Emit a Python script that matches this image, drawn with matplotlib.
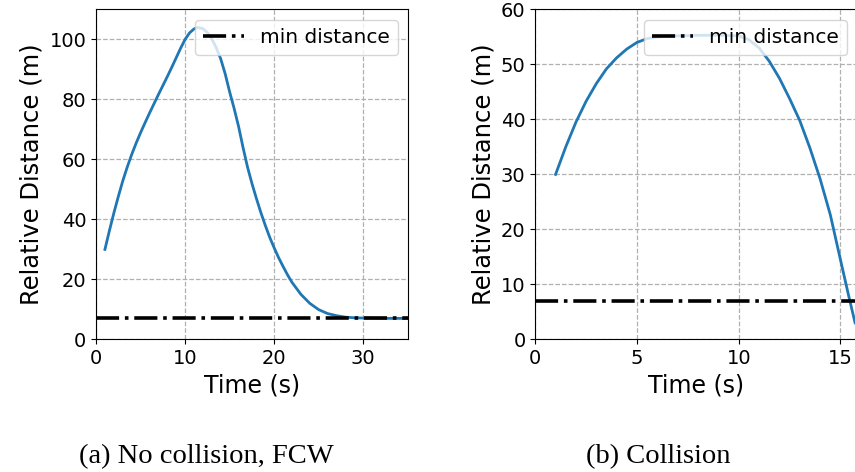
import numpy as np
import matplotlib
matplotlib.use("Agg")
import matplotlib.pyplot as plt

# (a) No collision, FCW
t_a = [1, 1.5, 2, 2.5, 3, 3.5, 4, 4.5, 5, 5.5, 6, 6.5, 7, 7.5, 8, 8.5, 9, 9.5,
       10, 10.5, 11, 11.4, 12, 12.5, 13, 13.5, 14, 14.5, 15, 15.5, 16, 16.5,
       17, 17.5, 18, 18.5, 19, 19.5, 20, 20.5, 21, 21.5, 22, 23, 24, 25, 26,
       27, 28, 29, 30, 32, 35]
d_a = [30, 36.2, 42.1, 47.6, 52.8, 57.4, 61.6, 65.4, 68.9, 72.2, 75.4, 78.5,
       81.6, 84.6, 87.6, 90.7, 93.9, 97.1, 100, 102.2, 103.5, 104, 103.6,
       102.3, 100.2, 97.2, 93.5, 88.5, 82.5, 77, 71, 64, 57.5, 52, 47, 42.3,
       38, 34, 30.5, 27.2, 24.3, 21.5, 19, 15, 12, 9.9, 8.6, 7.9, 7.4, 7.2,
       7.1, 7.0, 7.0]

# (b) Collision
t_b = [1, 1.5, 2, 2.5, 3, 3.5, 4, 4.5, 5, 5.5, 6, 7, 8, 9, 10, 10.5, 11, 11.5,
       12, 12.5, 13, 13.5, 14, 14.5, 15, 15.4, 15.72]
d_b = [30, 35, 39.5, 43.3, 46.5, 49.2, 51.2, 52.8, 54, 54.7, 55, 55.2, 55.3,
       55.3, 55.2, 54.5, 53, 50.6, 47.5, 43.8, 39.8, 34.8, 29.2, 22.7, 14.5,
       8, 3]

min_dist = 7
captions = ["(a) No collision, FCW", "(b) Collision"]

fig = plt.figure(figsize=(8.55, 4.72), dpi=100)
ax1 = fig.add_axes([0.1123, 0.281, 0.3647, 0.699])
ax2 = fig.add_axes([0.626, 0.281, 0.376, 0.699])

panels = [
    (ax1, t_a, d_a, (0, 35), (0, 110), [0, 10, 20, 30], [0, 20, 40, 60, 80, 100]),
    (ax2, t_b, d_b, (0, 15.8), (0, 60), [0, 5, 10, 15], [0, 10, 20, 30, 40, 50, 60]),
]

for ax, t, d, xl, yl, xt, yt in panels:
    ax.plot(t, d, color='#1f77b4', linewidth=2)
    ax.axhline(min_dist, color='k', linestyle='-.', linewidth=2.6, label='min distance')
    ax.set_xlim(xl)
    ax.set_ylim(yl)
    ax.set_xticks(xt)
    ax.set_yticks(yt)
    ax.grid(True, linestyle='--', color='#b0b0b0', linewidth=0.9)
    ax.tick_params(labelsize=14)
    ax.set_xlabel('Time (s)', fontsize=17)
    ax.set_ylabel('Relative Distance (m)', fontsize=17.5)
    ax.legend(loc='upper right', fontsize=14.5)

fig.text(0.241, 0.019, captions[0], ha='center', va='baseline',
         family='Liberation Serif', fontsize=20.5)
fig.text(0.770, 0.019, captions[1], ha='center', va='baseline',
         family='Liberation Serif', fontsize=20.5)

plt.savefig("out.png", dpi=100)
